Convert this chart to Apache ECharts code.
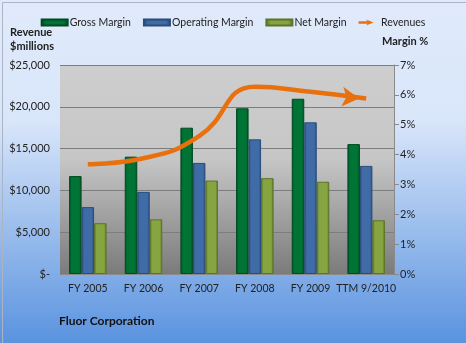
<!DOCTYPE html>
<html><head><meta charset="utf-8">
<script src="https://cdn.jsdelivr.net/npm/echarts@6/dist/echarts.min.js"></script>
<style>html,body{margin:0;padding:0;}#c{width:466px;height:343px;}</style>
</head><body><div id="c"></div>
<script>
var categories = ['FY 2005','FY 2006','FY 2007','FY 2008','FY 2009','TTM 9/2010'];
var grossMargin = [3.28, 3.93, 4.90, 5.55, 5.87, 4.35];
var operatingMargin = [2.24, 2.75, 3.72, 4.51, 5.08, 3.62];
var netMargin = [1.70, 1.83, 3.13, 3.21, 3.09, 1.80];
var revenues = [13120, 13840, 16500, 22400, 21800, 21000];
var leftTicks = {min: 0, max: 25000, interval: 5000};
var rightTicks = {min: 0, max: 7, interval: 1};

var FONT = 'Lato';
var chart = echarts.init(document.getElementById('c'), null, {renderer: 'canvas'});
var arrowPath = 'path://M0,3.5 L18,3.5 L15,0 L30,6 L15,12 L18,8.5 L0,8.5 Z';
var lineData = revenues.map(function (v, i) {
  if (i === revenues.length - 1) {
    return {value: v, symbol: 'arrow', symbolSize: [15, 17], symbolRotate: -96, symbolOffset: [-7, 0]};
  }
  return v;
});
function bar(name, data, color, border) {
  return {
    name: name, type: 'bar', yAxisIndex: 1, data: data, barWidth: 12.5, barGap: '0%',
    itemStyle: {
      color: new echarts.graphic.LinearGradient(0, 0, 1, 0, [
        {offset: 0, color: border}, {offset: 0.2, color: color}, {offset: 0.8, color: color}, {offset: 1, color: border}
      ]),
      borderColor: border, borderWidth: 1
    }
  };
}
chart.setOption({
  animation: false,
  backgroundColor: new echarts.graphic.LinearGradient(0, 0, 0, 1, [
    {offset: 0, color: '#e0eafb'}, {offset: 0.35, color: '#d9e6fa'}, {offset: 1, color: '#5a93df'}
  ]),
  textStyle: {fontFamily: FONT},
  legend: {
    top: 12, left: 'center', itemGap: 12, itemWidth: 26, itemHeight: 6,
    textStyle: {fontFamily: FONT, fontSize: 10.5, color: '#222', padding: [0, 0, 0, -3]},
    data: [
      {name: 'Gross Margin', icon: 'rect'},
      {name: 'Operating Margin', icon: 'rect'},
      {name: 'Net Margin', icon: 'rect'},
      {name: 'Revenues', icon: arrowPath, itemStyle: {color: '#e8710e'}}
    ]
  },
  grid: {
    left: 60, right: 72, top: 65, bottom: 69, show: true, borderWidth: 0,
    backgroundColor: new echarts.graphic.LinearGradient(0, 0, 0, 1, [
      {offset: 0, color: '#cecece'}, {offset: 0.45, color: '#c6c6c6'}, {offset: 1, color: '#7b7b7b'}
    ])
  },
  xAxis: {
    type: 'category', data: categories,
    axisLine: {lineStyle: {color: '#8a8a8a'}},
    axisTick: {show: false},
    axisLabel: {fontFamily: FONT, fontSize: 10.5, color: '#222', margin: 9, interval: 0}
  },
  yAxis: [
    {
      type: 'value', min: leftTicks.min, max: leftTicks.max, interval: leftTicks.interval,
      name: 'Revenue\n$millions', nameLocation: 'end', nameGap: 12,
      nameTextStyle: {fontFamily: FONT, fontSize: 11, fontWeight: 'bold', color: '#222', align: 'left', padding: [0, 0, 0, -50], lineHeight: 14},
      axisLine: {show: false}, axisTick: {show: false},
      splitLine: {lineStyle: {color: '#7d7d7d', width: 1}},
      axisLabel: {fontFamily: FONT, fontSize: 11, color: '#222', margin: 10,
        formatter: function (v) { return v === 0 ? '$-' : '$' + v.toLocaleString('en-US'); }}
    },
    {
      type: 'value', min: rightTicks.min, max: rightTicks.max, interval: rightTicks.interval,
      name: 'Margin %', nameLocation: 'end', nameGap: 18,
      nameTextStyle: {fontFamily: FONT, fontSize: 11, fontWeight: 'bold', color: '#222', align: 'left', padding: [0, 0, 0, -12]},
      position: 'right',
      axisLine: {show: true, lineStyle: {color: '#8a8a8a'}},
      axisTick: {show: true, length: 5, lineStyle: {color: '#8a8a8a'}},
      splitLine: {show: false},
      axisLabel: {fontFamily: FONT, fontSize: 11, color: '#222', margin: 6,
        formatter: function (v) { return v + '%'; }}
    }
  ],
  series: [
    bar('Gross Margin', grossMargin, '#007434', '#004a22'),
    bar('Operating Margin', operatingMargin, '#3f6ca6', '#2a4c7a'),
    bar('Net Margin', netMargin, '#86a540', '#5c7429'),
    {
      name: 'Revenues', type: 'line', yAxisIndex: 0, data: lineData, smooth: 0.5,
      symbol: 'none', showSymbol: true, z: 5,
      lineStyle: {color: '#e8710e', width: 4.5},
      itemStyle: {color: '#e8710e'}
    }
  ],
  graphic: [
    {type: 'text', left: 59, top: 315, style: {text: 'Fluor Corporation', fontFamily: FONT, fontSize: 12, fontWeight: 'bold', fill: '#111'}},
    {type: 'rect', left: 0, top: 0, shape: {x: 0.5, y: 0.5, width: 465, height: 342}, style: {fill: 'none', stroke: '#aab4c4', lineWidth: 1}, silent: true}
  ]
});
</script></body></html>
